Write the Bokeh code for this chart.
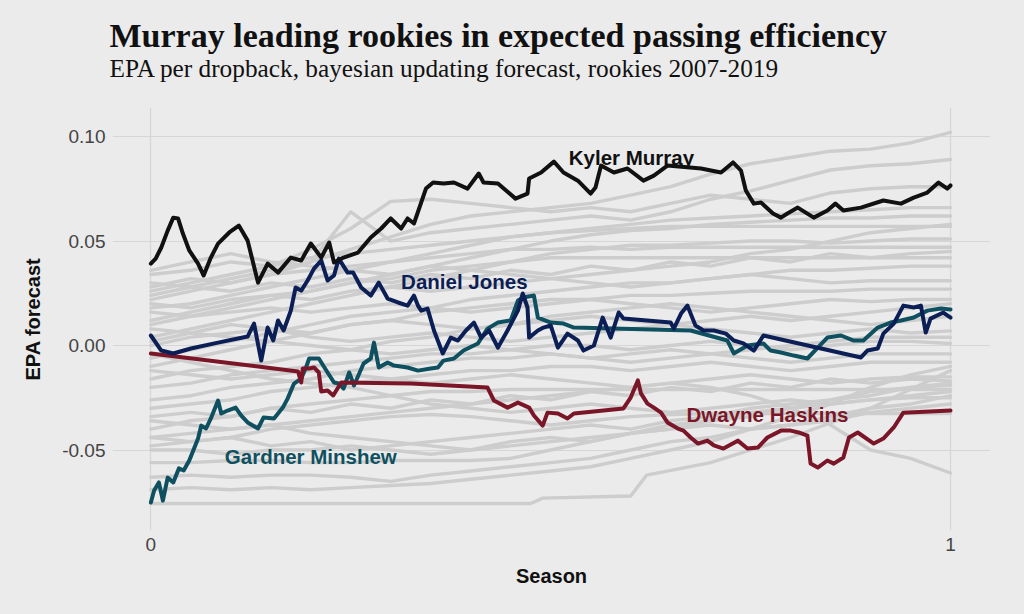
from bokeh.plotting import figure
from bokeh.models import Range1d, FixedTicker, PrintfTickFormatter, Title, ColumnDataSource
from bokeh.core.properties import value
from bokeh.embed import file_html
from bokeh.resources import INLINE

# ---------------- data ----------------
season_grid = [0.00, 0.05, 0.10, 0.15, 0.20, 0.25, 0.30, 0.35, 0.40, 0.45, 0.50,
               0.55, 0.60, 0.65, 0.70, 0.75, 0.80, 0.85, 0.90, 0.95, 1.00]

gray_01 = [0.022,0.026,0.030,0.034,0.040,0.046,0.052,0.058,0.062,0.064,0.066,0.068,0.072,0.076,0.082,0.087,0.090,0.093,0.094,0.097,0.102]
gray_02 = [0.030,0.028,0.032,0.036,0.040,0.064,0.050,0.054,0.056,0.058,0.060,0.062,0.060,0.064,0.070,0.074,0.079,0.084,0.086,0.087,0.089]
gray_03 = [0.026,0.030,0.034,0.038,0.046,0.056,0.069,0.070,0.068,0.066,0.064,0.066,0.064,0.068,0.072,0.070,0.068,0.073,0.075,0.076,0.076]
gray_04 = [0.018,0.020,0.024,0.028,0.032,0.036,0.040,0.044,0.048,0.052,0.054,0.056,0.058,0.060,0.061,0.062,0.063,0.064,0.065,0.066,0.066]
gray_05 = [0.010,0.014,0.018,0.022,0.026,0.030,0.034,0.038,0.042,0.046,0.050,0.053,0.055,0.056,0.058,0.059,0.060,0.061,0.061,0.062,0.062]
gray_06 = [0.034,0.036,0.040,0.038,0.042,0.044,0.046,0.048,0.050,0.052,0.054,0.055,0.056,0.057,0.057,0.057,0.057,0.057,0.057,0.057,0.057]
gray_07 = [0.004,0.008,0.012,0.016,0.020,0.024,0.028,0.032,0.036,0.040,0.044,0.046,0.048,0.048,0.049,0.050,0.050,0.049,0.050,0.051,0.051]
gray_08 = [0.028,0.032,0.030,0.034,0.036,0.038,0.040,0.042,0.044,0.046,0.046,0.047,0.046,0.047,0.047,0.047,0.047,0.047,0.047,0.047,0.047]
gray_09 = [0.012,0.016,0.020,0.024,0.026,0.030,0.032,0.036,0.038,0.040,0.042,0.042,0.042,0.042,0.042,0.042,0.042,0.042,0.042,0.042,0.042]
gray_10 = [-0.006,-0.002,0.002,0.006,0.010,0.014,0.016,0.018,0.022,0.024,0.026,0.028,0.030,0.030,0.032,0.034,0.036,0.036,0.037,0.038,0.038]
gray_11 = [0.020,0.018,0.022,0.024,0.022,0.026,0.028,0.026,0.028,0.030,0.032,0.030,0.028,0.030,0.032,0.034,0.032,0.030,0.031,0.031,0.031]
gray_12 = [-0.010,-0.006,-0.002,0.002,0.006,0.010,0.012,0.016,0.018,0.020,0.022,0.022,0.024,0.024,0.025,0.026,0.026,0.026,0.027,0.027,0.027]
gray_13 = [0.016,0.014,0.016,0.018,0.016,0.018,0.020,0.018,0.016,0.018,0.020,0.022,0.020,0.018,0.016,0.018,0.020,0.022,0.021,0.022,0.022]
gray_14 = [0.000,0.004,0.006,0.008,0.006,0.010,0.012,0.010,0.008,0.010,0.012,0.014,0.012,0.010,0.008,0.006,0.004,0.006,0.008,0.006,0.007]
gray_15 = [-0.020,-0.018,-0.014,-0.012,-0.010,-0.008,-0.006,-0.004,-0.004,-0.002,0.000,0.000,-0.002,0.000,0.002,0.000,-0.002,0.000,0.002,0.002,0.001]
gray_16 = [0.008,0.006,0.004,0.002,0.000,-0.002,-0.004,-0.002,0.000,-0.002,-0.004,-0.006,-0.004,-0.002,-0.004,-0.006,-0.008,-0.006,-0.004,-0.004,-0.004]
gray_17 = [-0.030,-0.028,-0.026,-0.022,-0.020,-0.018,-0.016,-0.014,-0.012,-0.012,-0.010,-0.010,-0.012,-0.010,-0.008,-0.010,-0.012,-0.010,-0.008,-0.008,-0.008]
gray_18 = [-0.012,-0.014,-0.016,-0.014,-0.012,-0.014,-0.016,-0.018,-0.016,-0.014,-0.016,-0.018,-0.020,-0.018,-0.016,-0.014,-0.016,-0.018,-0.016,-0.015,-0.015]
gray_19 = [-0.040,-0.036,-0.034,-0.030,-0.028,-0.026,-0.024,-0.022,-0.022,-0.021,-0.021,-0.021,-0.021,-0.021,-0.021,-0.021,-0.021,-0.021,-0.021,-0.021,-0.021]
gray_20 = [-0.004,-0.008,-0.012,-0.016,-0.018,-0.020,-0.024,-0.028,-0.030,-0.032,-0.030,-0.028,-0.030,-0.032,-0.030,-0.028,-0.026,-0.028,-0.026,-0.025,-0.025]
gray_21 = [-0.048,-0.046,-0.044,-0.040,-0.038,-0.036,-0.034,-0.033,-0.034,-0.036,-0.038,-0.036,-0.034,-0.033,-0.0325,-0.0325,-0.0325,-0.0325,-0.0325,-0.0325,-0.0325]
gray_22 = [-0.036,-0.038,-0.040,-0.038,-0.042,-0.044,-0.046,-0.048,-0.050,-0.046,-0.044,-0.046,-0.042,-0.038,-0.036,-0.034,-0.030,-0.028,-0.026,-0.024,-0.022]
gray_23 = [-0.044,-0.042,-0.040,-0.038,-0.036,-0.034,-0.032,-0.030,-0.028,-0.026,-0.024,-0.022,-0.020,-0.018,-0.020,-0.024,-0.030,-0.038,-0.050,-0.054,-0.061]
gray_24 = [-0.050,-0.050,-0.052,-0.050,-0.050,-0.048,-0.050,-0.052,-0.050,-0.048,-0.046,-0.044,-0.042,-0.040,-0.038,-0.040,-0.038,-0.036,-0.032,-0.030,-0.028]
gray_25 = [-0.056,-0.056,-0.055,-0.055,-0.056,-0.056,-0.055,-0.055,-0.055,-0.054,-0.050,-0.046,-0.042,-0.040,-0.036,-0.032,-0.030,-0.026,-0.022,-0.020,-0.018]
gray_26 = [-0.063,-0.062,-0.063,-0.062,-0.062,-0.063,-0.065,-0.062,-0.060,-0.058,-0.056,-0.054,-0.050,-0.046,-0.044,-0.040,-0.038,-0.034,-0.030,-0.028,-0.024]
gray_28 = [-0.069,-0.068,-0.069,-0.068,-0.069,-0.068,-0.067,-0.066,-0.064,-0.062,-0.060,-0.058,-0.054,-0.050,-0.046,-0.040,-0.034,-0.028,-0.020,-0.014,-0.010]
gray_29 = [0.036,0.040,0.044,0.040,0.038,0.036,0.034,0.038,0.036,0.034,0.032,0.034,0.036,0.038,0.040,0.044,0.046,0.050,0.054,0.056,0.058]
gray_30 = [0.002,0.006,0.010,0.008,0.004,0.002,0.004,0.006,0.004,0.002,0.004,0.006,0.008,0.010,0.012,0.014,0.012,0.014,0.016,0.018,0.020]
gray_31 = [-0.016,-0.012,-0.010,-0.008,-0.004,-0.002,0.002,0.004,0.008,0.010,0.014,0.016,0.018,0.020,0.018,0.016,0.014,0.012,0.010,0.012,0.014]
gray_32 = [-0.026,-0.024,-0.020,-0.018,-0.016,-0.012,-0.010,-0.008,-0.006,-0.006,-0.004,-0.006,-0.008,-0.006,-0.004,-0.002,0.000,0.002,0.004,0.004,0.004]
gray_33 = [0.024,0.028,0.026,0.030,0.028,0.032,0.030,0.034,0.032,0.036,0.034,0.038,0.036,0.040,0.038,0.042,0.040,0.044,0.042,0.044,0.045]
gray_34 = [-0.034,-0.032,-0.034,-0.030,-0.032,-0.028,-0.030,-0.026,-0.028,-0.024,-0.026,-0.022,-0.024,-0.020,-0.022,-0.018,-0.020,-0.016,-0.018,-0.016,-0.017]
gray_35 = [-0.044,-0.046,-0.044,-0.048,-0.046,-0.050,-0.048,-0.046,-0.044,-0.042,-0.040,-0.038,-0.040,-0.036,-0.034,-0.030,-0.028,-0.026,-0.024,-0.020,-0.019]

# bottom rookie with a long flat stretch
gray_27_season = [0.0, 0.475, 0.49, 0.60, 0.62, 0.70, 0.80, 0.90, 1.0]
gray_27 = [-0.0756, -0.0756, -0.073, -0.072, -0.062, -0.056, -0.044, -0.030, -0.012]

murray_season = [0.000,0.006,0.013,0.021,0.028,0.034,0.040,0.048,0.059,0.066,0.075,0.084,0.098,0.110,0.121,0.134,0.146,0.159,0.175,0.188,0.200,0.213,0.223,0.229,0.241,0.259,0.275,0.288,0.300,0.313,0.321,0.329,0.344,0.353,0.366,0.379,0.396,0.410,0.416,0.434,0.456,0.471,0.473,0.488,0.504,0.516,0.534,0.550,0.556,0.563,0.579,0.596,0.616,0.629,0.646,0.688,0.713,0.728,0.738,0.744,0.754,0.763,0.778,0.788,0.796,0.809,0.829,0.846,0.856,0.866,0.888,0.916,0.938,0.954,0.971,0.985,0.996,1.000]
murray_epa = [0.0392,0.0416,0.0469,0.0550,0.0612,0.0608,0.0536,0.0455,0.0392,0.0335,0.0421,0.0488,0.0541,0.0574,0.0502,0.0301,0.0392,0.0349,0.0421,0.0407,0.0488,0.0421,0.0493,0.0397,0.0421,0.0445,0.0517,0.0560,0.0608,0.0560,0.0608,0.0584,0.0751,0.0780,0.0775,0.0780,0.0751,0.0823,0.0780,0.0775,0.0703,0.0727,0.0799,0.0828,0.0880,0.0828,0.0789,0.0727,0.0756,0.0861,0.0828,0.0847,0.0789,0.0813,0.0861,0.0847,0.0828,0.0876,0.0837,0.0742,0.0679,0.0684,0.0632,0.0612,0.0632,0.0660,0.0612,0.0646,0.0679,0.0646,0.0660,0.0694,0.0679,0.0708,0.0732,0.0780,0.0751,0.0766]

jones_season = [0.000,0.013,0.028,0.050,0.084,0.121,0.129,0.138,0.146,0.153,0.159,0.166,0.175,0.181,0.188,0.196,0.204,0.213,0.221,0.229,0.235,0.246,0.253,0.263,0.275,0.285,0.296,0.309,0.321,0.329,0.334,0.338,0.346,0.354,0.365,0.375,0.384,0.394,0.404,0.413,0.423,0.434,0.446,0.459,0.465,0.471,0.473,0.484,0.491,0.500,0.509,0.521,0.534,0.541,0.554,0.565,0.575,0.585,0.591,0.650,0.654,0.663,0.671,0.681,0.691,0.704,0.719,0.729,0.741,0.754,0.766,0.888,0.896,0.909,0.916,0.929,0.941,0.954,0.963,0.969,0.975,0.991,1.000]
jones_epa = [0.0048,-0.0024,-0.0038,-0.0014,0.0014,0.0043,0.0105,-0.0072,0.0086,0.0024,0.0120,0.0072,0.0167,0.0278,0.0263,0.0311,0.0368,0.0407,0.0311,0.0335,0.0416,0.0349,0.0349,0.0278,0.0239,0.0301,0.0225,0.0206,0.0191,0.0239,0.0191,0.0167,0.0177,0.0072,-0.0038,0.0038,0.0024,0.0072,0.0110,0.0038,0.0072,-0.0010,0.0072,0.0167,0.0249,0.0182,0.0038,0.0072,0.0086,0.0096,-0.0010,0.0057,0.0024,-0.0024,0.0000,0.0134,0.0038,0.0158,0.0129,0.0110,0.0081,0.0153,0.0191,0.0096,0.0072,0.0072,0.0057,0.0024,0.0010,-0.0024,0.0048,-0.0057,-0.0024,-0.0014,0.0057,0.0105,0.0191,0.0182,0.0191,0.0062,0.0129,0.0158,0.0134]

minshew_season = [0.000,0.004,0.010,0.015,0.021,0.028,0.035,0.041,0.048,0.053,0.059,0.063,0.069,0.075,0.084,0.088,0.096,0.106,0.113,0.121,0.134,0.141,0.154,0.165,0.171,0.179,0.188,0.194,0.198,0.210,0.221,0.229,0.235,0.241,0.248,0.254,0.266,0.275,0.279,0.285,0.296,0.304,0.321,0.334,0.350,0.359,0.366,0.379,0.391,0.409,0.421,0.434,0.450,0.459,0.466,0.479,0.484,0.500,0.516,0.529,0.675,0.721,0.729,0.746,0.766,0.775,0.788,0.804,0.821,0.834,0.846,0.863,0.879,0.891,0.909,0.925,0.938,0.954,0.971,0.988,1.000]
minshew_epa = [-0.0751,-0.0694,-0.0655,-0.0742,-0.0632,-0.0655,-0.0588,-0.0598,-0.0550,-0.0502,-0.0445,-0.0383,-0.0397,-0.0349,-0.0263,-0.0325,-0.0311,-0.0297,-0.0335,-0.0368,-0.0397,-0.0344,-0.0349,-0.0297,-0.0254,-0.0182,-0.0158,-0.0105,-0.0062,-0.0062,-0.0129,-0.0177,-0.0182,-0.0206,-0.0129,-0.0191,-0.0086,-0.0062,0.0014,-0.0105,-0.0081,-0.0096,-0.0105,-0.0120,-0.0110,-0.0105,-0.0072,-0.0062,-0.0024,0.0010,0.0081,0.0110,0.0120,0.0215,0.0230,0.0239,0.0134,0.0110,0.0105,0.0086,0.0072,0.0024,-0.0038,0.0000,0.0010,-0.0024,-0.0033,-0.0048,-0.0062,-0.0010,0.0038,0.0048,0.0024,0.0024,0.0086,0.0110,0.0120,0.0134,0.0167,0.0177,0.0172]

haskins_season = [0.000,0.184,0.188,0.190,0.198,0.204,0.210,0.213,0.221,0.228,0.238,0.325,0.421,0.429,0.446,0.459,0.473,0.479,0.490,0.496,0.509,0.521,0.529,0.591,0.600,0.609,0.613,0.621,0.629,0.638,0.646,0.659,0.666,0.675,0.684,0.696,0.704,0.716,0.734,0.746,0.759,0.771,0.788,0.800,0.810,0.821,0.825,0.834,0.846,0.854,0.866,0.873,0.884,0.904,0.916,0.929,0.941,1.000]
haskins_epa = [-0.0038,-0.0124,-0.0177,-0.0110,-0.0110,-0.0105,-0.0129,-0.0220,-0.0215,-0.0239,-0.0177,-0.0182,-0.0201,-0.0263,-0.0297,-0.0273,-0.0297,-0.0335,-0.0383,-0.0321,-0.0325,-0.0349,-0.0325,-0.0301,-0.0249,-0.0167,-0.0230,-0.0278,-0.0297,-0.0321,-0.0368,-0.0397,-0.0407,-0.0440,-0.0469,-0.0455,-0.0478,-0.0493,-0.0455,-0.0493,-0.0488,-0.0440,-0.0407,-0.0407,-0.0416,-0.0431,-0.0565,-0.0584,-0.0550,-0.0565,-0.0536,-0.0440,-0.0416,-0.0469,-0.0445,-0.0392,-0.0321,-0.0311]

highlight_names = ["Kyler Murray", "Daniel Jones", "Dwayne Haskins", "Gardner Minshew"]
highlight_colors = ["#111111", "#0B1E55", "#7A1628", "#0F5060"]
label_season = [0.601, 0.392, 0.771, 0.200]
label_epa = [0.0900, 0.0306, -0.0330, -0.0531]

y_ticks = [-0.05, 0.00, 0.05, 0.10]
x_ticks = [0, 1]

title_text = "Murray leading rookies in expected passing efficiency"
subtitle_text = "EPA per dropback, bayesian updating forecast, rookies 2007-2019"

# ---------------- figure ----------------
BG = "#EBEBEB"
GRID = "#D6D6D6"
GRAY = "#CDCDCD"

p = figure(width=1024, height=614, output_backend="svg", toolbar_location=None,
           x_range=Range1d(-0.048, 1.05), y_range=Range1d(-0.0885, 0.1139),
           min_border_left=112, min_border_right=34, min_border_top=0, min_border_bottom=84)
p.background_fill_color = BG
p.border_fill_color = BG
p.outline_line_color = None

gray_lines = [gray_01, gray_02, gray_03, gray_04, gray_05, gray_06, gray_07, gray_08,
              gray_09, gray_10, gray_11, gray_12, gray_13, gray_14, gray_15, gray_16,
              gray_17, gray_18, gray_19, gray_20, gray_21, gray_22, gray_23, gray_24,
              gray_25, gray_26, gray_28, gray_29, gray_30, gray_31, gray_32, gray_33,
              gray_34, gray_35]
for ys in gray_lines:
    p.line(season_grid, ys, line_color=GRAY, line_width=3.4, line_join="round", line_cap="round")
p.line(gray_27_season, gray_27, line_color=GRAY, line_width=3.4, line_join="round", line_cap="round")

series = {
    "Gardner Minshew": (minshew_season, minshew_epa),
    "Dwayne Haskins": (haskins_season, haskins_epa),
    "Daniel Jones": (jones_season, jones_epa),
    "Kyler Murray": (murray_season, murray_epa),
}
for name in ["Gardner Minshew", "Dwayne Haskins", "Daniel Jones", "Kyler Murray"]:
    xs, ys = series[name]
    col = highlight_colors[highlight_names.index(name)]
    p.line(xs, ys, line_color=col, line_width=4, line_join="round", line_cap="round")

lab_src = ColumnDataSource(dict(x=label_season, y=label_epa, t=highlight_names, c=highlight_colors))
p.text(x="x", y="y", text="t", text_color="c", source=lab_src,
       text_font=value("Liberation Sans"), text_font_style="bold", text_font_size="20.5px",
       text_align="center", text_baseline="alphabetic")

# axes
for ax in (p.xaxis, p.yaxis):
    ax.axis_line_color = None
    ax.major_tick_line_color = None
    ax.minor_tick_line_color = None
    ax.major_tick_out = 0
    ax.major_tick_in = 0
    ax.minor_tick_out = 0
    ax.minor_tick_in = 0
    ax.major_label_text_font = "Liberation Sans"
    ax.major_label_text_font_size = "19px"
    ax.major_label_text_color = "#444444"
    ax.axis_label_text_font = "Liberation Sans"
    ax.axis_label_text_font_style = "bold"
    ax.axis_label_text_font_size = "20px"
    ax.axis_label_text_color = "#111111"

p.xaxis.ticker = FixedTicker(ticks=x_ticks)
p.yaxis.ticker = FixedTicker(ticks=y_ticks)
p.yaxis.formatter = PrintfTickFormatter(format="%.2f")
p.xaxis.formatter = PrintfTickFormatter(format="%d")
p.xaxis.axis_label = "Season"
p.yaxis.axis_label = "EPA forecast"
p.xaxis.major_label_standoff = 7
p.yaxis.major_label_standoff = 7
p.xaxis.axis_label_standoff = 11
p.yaxis.axis_label_standoff = 15

p.xgrid.ticker = FixedTicker(ticks=x_ticks)
p.ygrid.ticker = FixedTicker(ticks=y_ticks)
p.xgrid.grid_line_color = GRID
p.ygrid.grid_line_color = GRID
p.xgrid.grid_line_width = 1.2
p.ygrid.grid_line_width = 1.2

# header stack (top -> bottom): spacer, title, subtitle, spacer, plot frame
p.title.text = " "
p.title.text_font = "Liberation Sans"
p.title.text_font_size = "11.4px"
p.title.standoff = 0
p.add_layout(Title(text=" ", text_font="Liberation Sans", text_font_size="22.5px", standoff=0), "above")
p.add_layout(Title(text=subtitle_text, text_font="Liberation Serif", text_font_style="normal",
                   text_font_size="25.3px", text_color="#111111", align="left",
                   offset=-3, standoff=-3), "above")
p.add_layout(Title(text=title_text, text_font="Liberation Serif", text_font_style="bold",
                   text_font_size="34px", text_color="#111111", align="left",
                   offset=-3, standoff=0), "above")

html = file_html(p, INLINE)
html = html.replace("<head>", "<head><style>body{background-color:#EBEBEB;}</style>", 1)
open("out.html", "w").write(html)
